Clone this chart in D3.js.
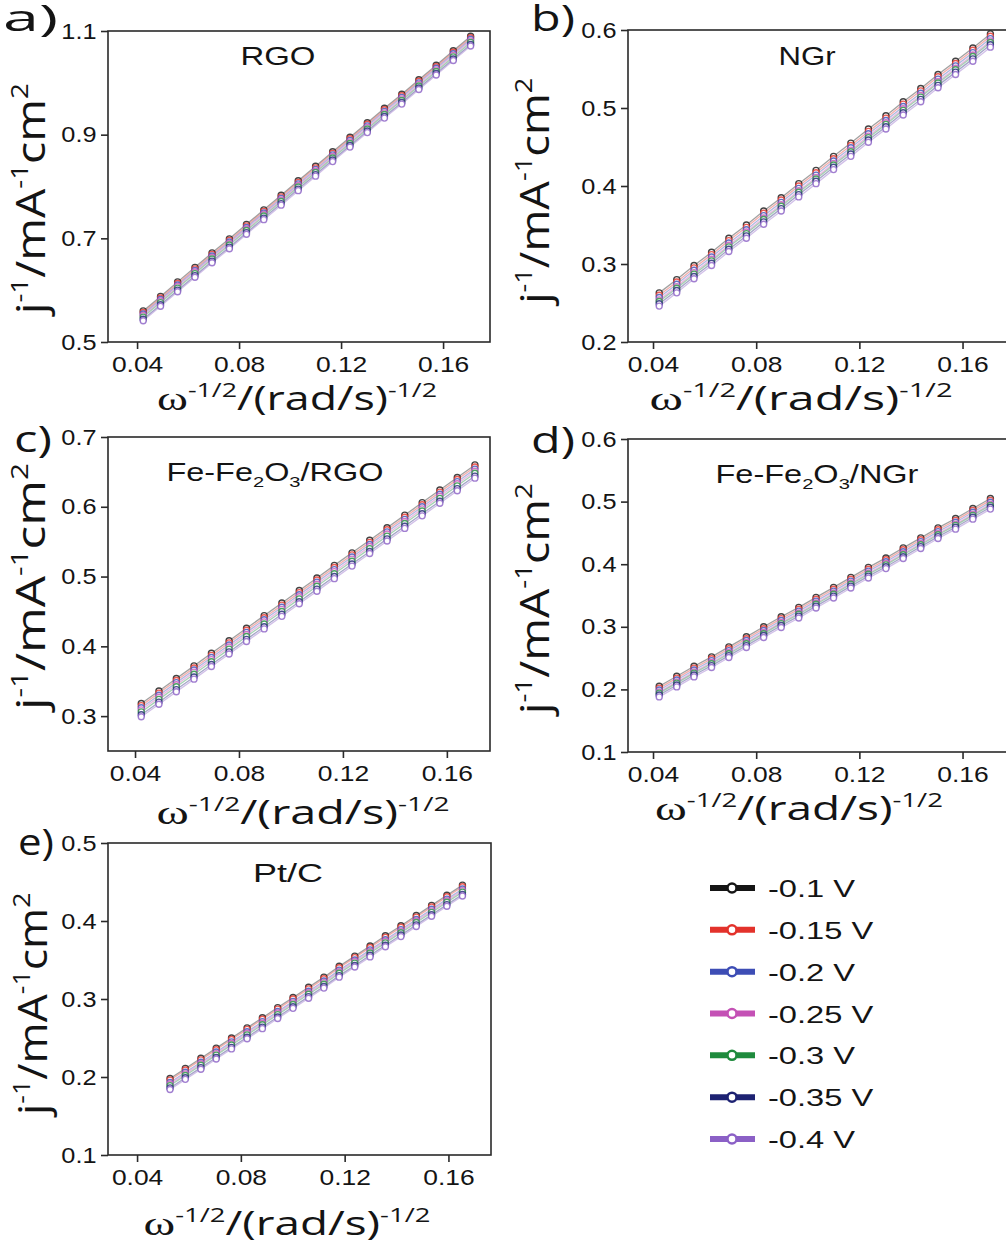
<!DOCTYPE html>
<html>
<head>
<meta charset="utf-8">
<script src="https://d3js.org/d3.v7.min.js"></script>
<style>
  body { margin: 0; background: #fff; }
</style>
</head>
<body>
<div id="fig"></div>
<script>
// ---------- data ----------
var voltages = ["-0.1 V", "-0.15 V", "-0.2 V", "-0.25 V", "-0.3 V", "-0.35 V", "-0.4 V"];
var colors = ["#151515", "#e3322b", "#3d4db5", "#c451b5", "#1f8b3d", "#1d2272", "#8b60c6"];

var xTicks = [0.04, 0.08, 0.12, 0.16];

// omega^-1/2 for RGO, NGr, Fe-Fe2O3/RGO, Fe-Fe2O3/NGr
var xOmega = [0.0424, 0.0492, 0.0559, 0.0627, 0.0694, 0.0762, 0.0829, 0.0897, 0.0965, 0.1032,
              0.1100, 0.1167, 0.1235, 0.1303, 0.1370, 0.1438, 0.1505, 0.1573, 0.1640, 0.1708];
// omega^-1/2 for Pt/C
var xOmegaPtC = [0.0527, 0.0586, 0.0646, 0.0705, 0.0764, 0.0824, 0.0883, 0.0942, 0.1001, 0.1061,
                 0.1120, 0.1179, 0.1239, 0.1298, 0.1357, 0.1417, 0.1476, 0.1535, 0.1594, 0.1654];

// j^-1 per potential, order as in voltages
var yRGO = [
  [0.560,0.588,0.616,0.644,0.672,0.699,0.727,0.755,0.783,0.811,0.839,0.867,0.895,0.923,0.951,0.978,1.006,1.034,1.062,1.090],
  [0.557,0.585,0.613,0.641,0.669,0.696,0.724,0.752,0.780,0.808,0.836,0.864,0.892,0.920,0.948,0.975,1.003,1.031,1.059,1.087],
  [0.554,0.582,0.610,0.638,0.666,0.693,0.721,0.749,0.777,0.805,0.833,0.861,0.889,0.917,0.945,0.972,1.000,1.028,1.056,1.084],
  [0.551,0.579,0.607,0.635,0.663,0.690,0.718,0.746,0.774,0.802,0.830,0.858,0.886,0.914,0.942,0.969,0.997,1.025,1.053,1.081],
  [0.548,0.576,0.604,0.632,0.660,0.687,0.715,0.743,0.771,0.799,0.827,0.855,0.883,0.911,0.939,0.966,0.994,1.022,1.050,1.078],
  [0.544,0.572,0.600,0.628,0.656,0.683,0.711,0.739,0.767,0.795,0.823,0.851,0.879,0.907,0.935,0.962,0.990,1.018,1.046,1.074],
  [0.541,0.569,0.597,0.625,0.653,0.680,0.708,0.736,0.764,0.792,0.820,0.848,0.876,0.904,0.932,0.959,0.987,1.015,1.043,1.071]
];
var yNGr = [
  [0.263,0.280,0.298,0.315,0.333,0.350,0.368,0.385,0.403,0.420,0.438,0.455,0.473,0.490,0.508,0.525,0.543,0.560,0.577,0.595],
  [0.260,0.277,0.295,0.312,0.330,0.347,0.365,0.382,0.400,0.417,0.435,0.452,0.470,0.487,0.505,0.522,0.540,0.557,0.574,0.592],
  [0.257,0.274,0.292,0.309,0.327,0.344,0.362,0.379,0.397,0.414,0.432,0.449,0.467,0.484,0.502,0.519,0.537,0.554,0.571,0.589],
  [0.254,0.271,0.289,0.306,0.324,0.341,0.359,0.376,0.394,0.411,0.429,0.446,0.464,0.481,0.499,0.516,0.534,0.551,0.568,0.586],
  [0.252,0.269,0.287,0.304,0.322,0.339,0.357,0.374,0.392,0.409,0.427,0.444,0.462,0.479,0.497,0.514,0.532,0.549,0.566,0.584],
  [0.249,0.266,0.284,0.301,0.319,0.336,0.354,0.371,0.389,0.406,0.424,0.441,0.459,0.476,0.494,0.511,0.529,0.546,0.563,0.581],
  [0.246,0.263,0.281,0.298,0.316,0.333,0.351,0.368,0.386,0.403,0.421,0.438,0.456,0.473,0.491,0.508,0.526,0.543,0.560,0.578]
];
var yFeRGO = [
  [0.318,0.336,0.354,0.372,0.390,0.408,0.426,0.444,0.462,0.480,0.498,0.516,0.534,0.552,0.570,0.588,0.606,0.624,0.642,0.660],
  [0.315,0.333,0.351,0.369,0.387,0.405,0.423,0.441,0.459,0.477,0.495,0.513,0.531,0.549,0.567,0.585,0.603,0.621,0.639,0.657],
  [0.312,0.330,0.348,0.366,0.384,0.402,0.420,0.438,0.456,0.474,0.492,0.510,0.528,0.546,0.564,0.582,0.600,0.618,0.636,0.654],
  [0.309,0.327,0.345,0.363,0.381,0.399,0.417,0.435,0.453,0.471,0.489,0.507,0.525,0.543,0.561,0.579,0.597,0.615,0.633,0.651],
  [0.306,0.324,0.342,0.360,0.378,0.396,0.414,0.432,0.450,0.468,0.486,0.504,0.522,0.540,0.558,0.576,0.594,0.612,0.630,0.648],
  [0.302,0.320,0.338,0.356,0.374,0.392,0.410,0.428,0.446,0.464,0.482,0.500,0.518,0.536,0.554,0.572,0.590,0.608,0.626,0.644],
  [0.299,0.317,0.335,0.353,0.371,0.389,0.407,0.425,0.443,0.461,0.479,0.497,0.515,0.533,0.551,0.569,0.587,0.605,0.623,0.641]
];
var yFeNGr = [
  [0.205,0.221,0.237,0.252,0.268,0.284,0.300,0.316,0.331,0.347,0.363,0.379,0.395,0.410,0.426,0.442,0.458,0.473,0.489,0.505],
  [0.202,0.218,0.234,0.249,0.265,0.281,0.297,0.313,0.328,0.344,0.360,0.376,0.392,0.407,0.423,0.439,0.455,0.470,0.486,0.502],
  [0.199,0.215,0.231,0.246,0.262,0.278,0.294,0.310,0.325,0.341,0.357,0.373,0.389,0.404,0.420,0.436,0.452,0.467,0.483,0.499],
  [0.196,0.212,0.228,0.243,0.259,0.275,0.291,0.307,0.322,0.338,0.354,0.370,0.386,0.401,0.417,0.433,0.449,0.464,0.480,0.496],
  [0.194,0.210,0.226,0.241,0.257,0.273,0.289,0.305,0.320,0.336,0.352,0.368,0.384,0.399,0.415,0.431,0.447,0.462,0.478,0.494],
  [0.191,0.207,0.223,0.238,0.254,0.270,0.286,0.302,0.317,0.333,0.349,0.365,0.381,0.396,0.412,0.428,0.444,0.459,0.475,0.491],
  [0.188,0.204,0.220,0.235,0.251,0.267,0.283,0.299,0.314,0.330,0.346,0.362,0.378,0.393,0.409,0.425,0.441,0.456,0.472,0.488]
];
var yPtC = [
  [0.198,0.211,0.224,0.237,0.250,0.263,0.276,0.289,0.302,0.315,0.328,0.342,0.355,0.368,0.381,0.394,0.407,0.420,0.433,0.446],
  [0.196,0.209,0.222,0.235,0.248,0.261,0.274,0.287,0.300,0.313,0.326,0.340,0.353,0.366,0.379,0.392,0.405,0.418,0.431,0.444],
  [0.193,0.206,0.219,0.232,0.245,0.258,0.271,0.284,0.297,0.310,0.323,0.337,0.350,0.363,0.376,0.389,0.402,0.415,0.428,0.441],
  [0.191,0.204,0.217,0.230,0.243,0.256,0.269,0.282,0.295,0.308,0.321,0.335,0.348,0.361,0.374,0.387,0.400,0.413,0.426,0.439],
  [0.189,0.202,0.215,0.228,0.241,0.254,0.267,0.280,0.293,0.306,0.319,0.333,0.346,0.359,0.372,0.385,0.398,0.411,0.424,0.437],
  [0.186,0.199,0.212,0.225,0.238,0.251,0.264,0.277,0.290,0.303,0.316,0.330,0.343,0.356,0.369,0.382,0.395,0.408,0.421,0.434],
  [0.184,0.197,0.210,0.223,0.236,0.249,0.262,0.275,0.288,0.301,0.314,0.328,0.341,0.354,0.367,0.380,0.393,0.406,0.419,0.432]
];

var yTicksRGO = [0.5, 0.7, 0.9, 1.1];
var yTicksNGr = [0.2, 0.3, 0.4, 0.5, 0.6];
var yTicksFeRGO = [0.3, 0.4, 0.5, 0.6, 0.7];
var yTicksFeNGr = [0.1, 0.2, 0.3, 0.4, 0.5, 0.6];
var yTicksPtC = [0.1, 0.2, 0.3, 0.4, 0.5];

// ---------- layout ----------
var W = 1006, H = 1257;
var SANS = "'Liberation Sans', Arial, sans-serif";
var OPEN = "'Open Sans', 'Noto Sans', sans-serif";
var panels = [
  { letter: "a)", lx: 3, ly: 31, lw: 55, title: [["RGO", 0]], tx: 278, ty: 65, tw: 75,
    xs: xOmega, ys: yRGO, yDomain: [0.5, 1.1], yTicks: yTicksRGO, xDomain: [0.0286, 0.1784],
    left: 108, right: 490, top: 31, bottom: 342,
    xl: { cx: 297, y: 410, w: 280 }, yl: { x: 45, cy: 200, len: 234 } },
  { letter: "b)", lx: 531, ly: 31, lw: 44, title: [["NGr", 0]], tx: 807, ty: 65, tw: 57,
    xs: xOmega, ys: yNGr, yDomain: [0.2, 0.6], yTicks: yTicksNGr, xDomain: [0.0303, 0.1784],
    left: 628, right: 1010, top: 30, bottom: 342,
    xl: { cx: 801, y: 410, w: 303 }, yl: { x: 549, cy: 192, len: 229 } },
  { letter: "c)", lx: 14, ly: 452, lw: 38, title: [["Fe-Fe", 0], ["2", 2], ["O", 0], ["3", 2], ["/RGO", 0]], tx: 275, ty: 481, tw: 217,
    xs: xOmega, ys: yFeRGO, yDomain: [0.25, 0.7], yTicks: yTicksFeRGO, xDomain: [0.0296, 0.1766],
    left: 108, right: 490, top: 437, bottom: 751,
    xl: { cx: 303, y: 824, w: 293 }, yl: { x: 45, cy: 588, len: 250 } },
  { letter: "d)", lx: 531, ly: 453, lw: 44, title: [["Fe-Fe", 0], ["2", 2], ["O", 0], ["3", 2], ["/NGr", 0]], tx: 817, ty: 483, tw: 203,
    xs: xOmega, ys: yFeNGr, yDomain: [0.1, 0.6], yTicks: yTicksFeNGr, xDomain: [0.0303, 0.1784],
    left: 628, right: 1010, top: 439, bottom: 752,
    xl: { cx: 799, y: 820, w: 288 }, yl: { x: 549, cy: 600, len: 234 } },
  { letter: "e)", lx: 18, ly: 855, lw: 36, title: [["Pt/C", 0]], tx: 288, ty: 882, tw: 70,
    xs: xOmegaPtC, ys: yPtC, yDomain: [0.1, 0.5], yTicks: yTicksPtC, xDomain: [0.0288, 0.1764],
    left: 108, right: 491, top: 843, bottom: 1155,
    xl: { cx: 287, y: 1235, w: 287 }, yl: { x: 47, cy: 1005, len: 225 } }
];

var svg = d3.select("#fig").append("svg")
  .attr("width", W).attr("height", H)
  .style("display", "block");

// text with super/subscripts, stretched to the width seen in the picture
function addText(parent, parts, o) {
  var t = parent.append("text")
    .style("font-family", o.family || SANS)
    .style("font-size", o.size + "px")
    .style("fill", "#141414");
  var cur = 0;
  parts.forEach(function(p) {
    var kind = p[1], fs = o.size, off = 0, fam = null;
    if (kind === 1) { fs = o.size * 0.6; off = -o.size * 0.42; }
    if (kind === 2) { fs = o.size * 0.62; off = o.size * 0.22; }
    if (kind === 3) { fam = "'Liberation Serif', serif"; fs = o.size * 1.05; }
    var ts = t.append("tspan").style("font-size", fs + "px").attr("dy", off - cur).text(p[0]);
    if (fam) ts.style("font-family", fam);
    cur = off;
  });
  var bb = t.node().getBBox();
  var s = o.w ? o.w / bb.width : (o.sx || 1);
  var sy = o.sy || 1;
  if (o.rotate) {
    var L = bb.width * s;
    t.attr("transform", "translate(" + o.x + "," + (o.cy + L / 2) + ") rotate(-90) scale(" + s + "," + sy + ") translate(" + (-bb.x) + ",0)");
  } else {
    var w = bb.width * s;
    var left = o.anchor === "middle" ? o.x - w / 2 : (o.anchor === "end" ? o.x - w : o.x);
    t.attr("transform", "translate(" + left + "," + o.y + ") scale(" + s + "," + sy + ") translate(" + (-bb.x) + ",0)");
  }
  return t;
}

panels.forEach(function(p) {
  var g = svg.append("g");
  var x = d3.scaleLinear().domain(p.xDomain).range([p.left, p.right]);
  var y = d3.scaleLinear().domain(p.yDomain).range([p.bottom, p.top]);

  // frame
  g.append("rect")
    .attr("x", p.left).attr("y", p.top)
    .attr("width", p.right - p.left).attr("height", p.bottom - p.top)
    .attr("fill", "none").attr("stroke", "#2a2a2a").attr("stroke-width", 1.6);

  // axes
  var gx = g.append("g").attr("transform", "translate(0," + p.bottom + ")")
    .call(d3.axisBottom(x).tickValues(xTicks).tickSize(7).tickSizeOuter(0).tickPadding(7).tickFormat(d3.format(".2f")));
  var gy = g.append("g").attr("transform", "translate(" + p.left + ",0)")
    .call(d3.axisLeft(y).tickValues(p.yTicks).tickSize(7).tickSizeOuter(0).tickPadding(3).tickFormat(d3.format(".1f")));
  [gx, gy].forEach(function(a) {
    a.select(".domain").remove();
    a.selectAll("line").attr("stroke", "#2a2a2a").attr("stroke-width", 1.6);
    a.selectAll("text").style("font-size", "22px").style("fill", "#141414")
      .style("font-family", SANS);
  });
  gx.selectAll("text").attr("transform", "scale(1.2,1)");
  gy.selectAll("text").attr("transform", "scale(1.15,1)");

  // series lines
  var line = d3.line()
    .x(function(d, i) { return x(p.xs[i]); })
    .y(function(d) { return y(d); });
  g.selectAll(".ser").data(p.ys).enter().append("path")
    .attr("d", line)
    .attr("fill", "none")
    .attr("stroke", function(d, i) { return colors[i]; })
    .attr("stroke-width", 1.3)
    .attr("stroke-opacity", 0.4);

  // markers
  p.ys.forEach(function(ser, k) {
    g.append("g").selectAll("circle").data(ser).enter().append("circle")
      .attr("cx", function(d, i) { return x(p.xs[i]); })
      .attr("cy", function(d) { return y(d); })
      .attr("r", 3)
      .attr("fill", "#fff")
      .attr("stroke", colors[k])
      .attr("stroke-width", 1.4)
      .attr("stroke-opacity", 0.8);
  });

  // panel title
  addText(g, p.title, { size: 25, x: p.tx, y: p.ty, w: p.tw, anchor: "middle" });

  // panel letter
  addText(g, [[p.letter, 0]], { size: 37, x: p.lx, y: p.ly, w: p.lw, family: OPEN });

  // axis titles
  addText(g, [["\u03c9", 3], ["-1/2", 1], ["/(rad/s)", 0], ["-1/2", 1]],
    { size: 32, x: p.xl.cx, y: p.xl.y, w: p.xl.w, anchor: "middle", family: OPEN });
  addText(g, [["j", 0], ["-1", 1], ["/mA", 0], ["-1", 1], ["cm", 0], ["2", 1]],
    { size: 34, x: p.yl.x, cy: p.yl.cy, w: p.yl.len, sy: 1.2, rotate: true, family: OPEN });
});

// ---------- legend ----------
var leg = svg.append("g");
var legRows = d3.scaleLinear().domain([0, 6]).range([888, 1139]);
voltages.forEach(function(v, i) {
  var cy = legRows(i);
  leg.append("line").attr("x1", 710).attr("x2", 755).attr("y1", cy).attr("y2", cy)
    .attr("stroke", colors[i]).attr("stroke-width", 6);
  leg.append("circle").attr("cx", 732).attr("cy", cy).attr("r", 4.5)
    .attr("fill", "#fff").attr("stroke", colors[i]).attr("stroke-width", 2.5);
  addText(leg, [[v, 0]], { size: 24, x: 768, y: cy + 9, sx: 1.36 });
});
</script>
</body>
</html>
